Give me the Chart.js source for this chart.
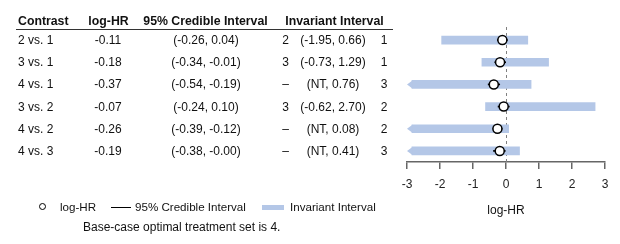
<!DOCTYPE html>
<html>
<head>
<meta charset="utf-8">
<script src="https://cdn.jsdelivr.net/npm/chart.js@4"></script>
<style>
  body { margin: 0; background: #fff; font-family: "Liberation Sans", Arial, sans-serif; color: #111; }
  #wrap { position: relative; width: 620px; height: 244px; overflow: hidden; }
  #c { position: absolute; left: 0; top: 0; }
  .t { position: absolute; font-size: 12px; line-height: 16px; height: 16px; white-space: nowrap; }
  .h { font-weight: bold; font-size: 12.3px; }
  .lg { font-size: 11.6px; }
  .mid { transform: translateX(-50%); }
  #rule { position: absolute; left: 16px; width: 377px; top: 29px; height: 1px; background: #333; }
  .sym { position: absolute; }
</style>
</head>
<body>
<div id="wrap">
  <canvas id="c" width="620" height="244"></canvas>
  <div id="rule"></div>
</div>
<script>
const contrasts = ["2 vs. 1", "3 vs. 1", "4 vs. 1", "3 vs. 2", "4 vs. 2", "4 vs. 3"];
const logHR = [-0.11, -0.18, -0.37, -0.07, -0.26, -0.19];
const criLow = [-0.26, -0.34, -0.54, -0.24, -0.39, -0.38];
const criHigh = [0.04, -0.01, -0.19, 0.10, -0.12, -0.00];
const invLow = [-1.95, -0.73, null, -0.62, null, null];   // null = NT
const invHigh = [0.66, 1.29, 0.76, 2.70, 0.08, 0.41];
const invLowRank = ["2", "3", "\u2013", "3", "\u2013", "\u2013"];
const invHighRank = ["1", "1", "3", "2", "2", "3"];
const xMin = -3, xMax = 3;
const ntStart = -2.85; // NT bars start here, arrow head goes to the axis edge

const barColor = "#b4c7e7";

function fmt(v) {
  return (Object.is(v, -0) ? "-" : "") + v.toFixed(2);
}

Chart.defaults.font.family = '"Liberation Sans", Arial, sans-serif';
Chart.defaults.font.size = 12;
Chart.defaults.color = "#222";

// dashed line at zero
const zeroLine = {
  id: "zeroLine",
  beforeDatasetsDraw(chart) {
    const ctx = chart.ctx;
    const x = Math.round(chart.scales.x.getPixelForValue(0)) + 0.5;
    ctx.save();
    ctx.strokeStyle = "#808080";
    ctx.lineWidth = 1;
    ctx.setLineDash([3, 3]);
    ctx.beginPath();
    ctx.moveTo(x, chart.chartArea.top - 2);
    ctx.lineTo(x, chart.chartArea.bottom);
    ctx.stroke();
    ctx.restore();
  }
};

// arrow heads on NT bars
const ntArrows = {
  id: "ntArrows",
  afterDatasetDraw(chart, args) {
    if (args.index !== 0) return;
    const ctx = chart.ctx;
    const meta = chart.getDatasetMeta(0);
    const tip = chart.scales.x.getPixelForValue(xMin);
    ctx.save();
    ctx.fillStyle = barColor;
    invLow.forEach((v, i) => {
      if (v !== null) return;
      const el = meta.data[i];
      const base = Math.min(el.base, el.x);
      const h = el.height / 2;
      ctx.beginPath();
      ctx.moveTo(base + 0.5, el.y - h);
      ctx.lineTo(tip, el.y);
      ctx.lineTo(base + 0.5, el.y + h);
      ctx.closePath();
      ctx.fill();
    });
    ctx.restore();
  }
};

const chart = new Chart(document.getElementById("c"), {
  type: "bar",
  data: {
    labels: contrasts,
    datasets: [
      {
        label: "Invariant Interval",
        data: invLow.map((v, i) => [v === null ? ntStart : v, invHigh[i]]),
        backgroundColor: barColor,
        barThickness: 8,
        grouped: false,
        order: 3
      },
      {
        label: "95% Credible Interval",
        data: criLow.map((v, i) => [v, criHigh[i]]),
        backgroundColor: "#000",
        barThickness: 1,
        grouped: false,
        order: 2
      },
      {
        type: "line",
        label: "log-HR",
        indexAxis: "y",
        data: logHR.map((v, i) => ({ x: v, y: contrasts[i] })),
        showLine: false,
        pointRadius: 4.5,
        pointBackgroundColor: "#fff",
        pointBorderColor: "#000",
        pointBorderWidth: 1.5,
        order: 1
      }
    ]
  },
  options: {
    indexAxis: "y",
    responsive: false,
    animation: false,
    layout: { padding: { top: 29, left: 407, right: 15, bottom: 0 } },
    plugins: { legend: { display: false }, tooltip: { enabled: false } },
    scales: {
      y: { display: false },
      x: {
        min: xMin,
        max: xMax,
        afterFit: s => { s.height = 82; },
        ticks: { stepSize: 1, padding: 8, color: "#222" },
        grid: { drawOnChartArea: false, drawTicks: true, tickLength: 7, color: "#666", lineWidth: 1.5 },
        border: { display: true, color: "#666", width: 1.5 },
        title: { display: true, text: "log-HR", color: "#111", font: { size: 12 }, padding: { top: 0, bottom: 26 } }
      }
    }
  },
  plugins: [zeroLine, ntArrows]
});

// table text beside the plot, rows lined up with the y scale
const wrap = document.getElementById("wrap");
function put(text, x, y, cls) {
  const d = document.createElement("div");
  d.className = "t " + (cls || "");
  d.textContent = text;
  d.style.left = x + "px";
  d.style.top = (y - 8) + "px";
  wrap.appendChild(d);
  return d;
}

const headY = 20.5;
put("Contrast", 18, headY, "h");
put("log-HR", 108.5, headY, "h mid");
put("95% Credible Interval", 205.5, headY, "h mid");
put("Invariant Interval", 334.5, headY, "h mid");

const ys = chart.scales.y;
contrasts.forEach((c, i) => {
  const y = ys.getPixelForValue(i);
  put(c, 18, y);
  put(fmt(logHR[i]), 108, y, "mid");
  put("(" + fmt(criLow[i]) + ", " + fmt(criHigh[i]) + ")", 206, y, "mid");
  put(invLowRank[i], 285.5, y, "mid");
  put("(" + (invLow[i] === null ? "NT" : fmt(invLow[i])) + ", " + fmt(invHigh[i]) + ")", 333, y, "mid");
  put(invHighRank[i], 384, y, "mid");
});

// legend and footnote
const legY = 207;
const circ = document.createElement("div");
circ.className = "sym";
Object.assign(circ.style, { left: "39px", top: (legY - 4) + "px", width: "5px", height: "5px",
  border: "1.5px solid #000", borderRadius: "50%", background: "#fff" });
wrap.appendChild(circ);
put("log-HR", 60, legY, "lg");
const ln = document.createElement("div");
ln.className = "sym";
Object.assign(ln.style, { left: "111px", top: legY + "px", width: "20px", height: "1px", background: "#000" });
wrap.appendChild(ln);
put("95% Credible Interval", 135, legY, "lg");
const sw = document.createElement("div");
sw.className = "sym";
Object.assign(sw.style, { left: "262px", top: (legY - 2) + "px", width: "22px", height: "5px", background: barColor });
wrap.appendChild(sw);
put("Invariant Interval", 290, legY, "lg");
put("Base-case optimal treatment set is 4.", 83, 227);
</script>
</body>
</html>
